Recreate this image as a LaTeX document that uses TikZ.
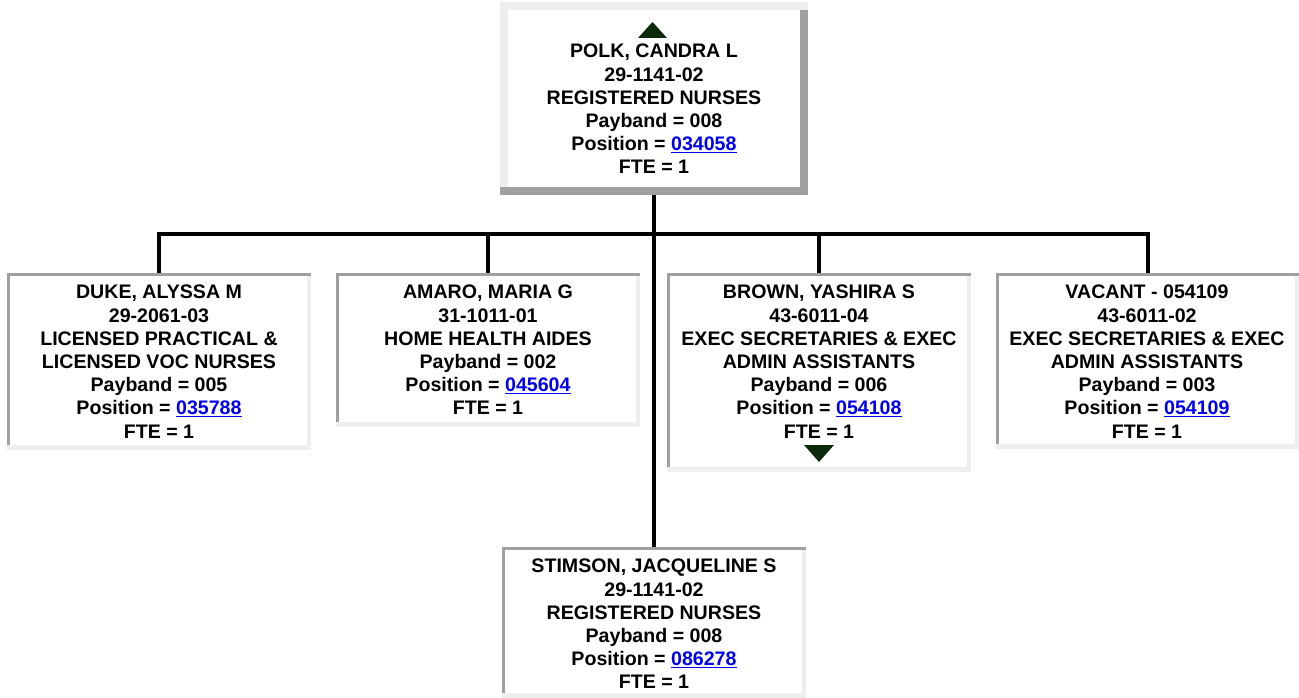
\documentclass[tikz,border=0pt]{standalone}
\usepackage{fontspec}
\setmainfont{Liberation Sans}
\usetikzlibrary{calc}
\definecolor{bevdark}{HTML}{A0A0A0}
\definecolor{bevlight}{HTML}{EEEEEE}
\definecolor{linkblue}{HTML}{0000EE}
\definecolor{arrowgreen}{HTML}{0A2A0A}
\newcommand\lnk[1]{\textcolor{linkblue}{\underline{#1}}}
\newcommand\insetbevel[1]{%
  \fill[bevlight] (#1.north west) rectangle (#1.south east);
  \fill[bevdark] (#1.north west) rectangle ($(#1.north east)+(0,3)$);
  \fill[bevdark] (#1.north west) rectangle ($(#1.south west)+(3,-5)$);
  \fill[white] ($(#1.north west)+(3,3)$) rectangle ($(#1.south east)+(-4,-5)$);
}
\newcommand\raisedbevel[1]{%
  \fill[bevdark] (#1.north west) rectangle (#1.south east);
  \fill[bevlight] (#1.north west) rectangle ($(#1.north east)+(0,8)$);
  \fill[bevlight] (#1.north west) rectangle ($(#1.south west)+(8,-8)$);
  \fill[white] ($(#1.north west)+(8,8)$) rectangle ($(#1.south east)+(-8,-8)$);
}
\tikzset{
  boxframe/.style={draw=none, inner sep=0pt, anchor=north west},
  boxtext/.style={inner sep=0pt, anchor=north, align=center,
    font=\fontsize{19.6}{23.2}\selectfont\bfseries},
  conn/.style={line width=4pt, black},
  tri/.style={fill=arrowgreen, draw=none}
}
\begin{document}
\begin{tikzpicture}[x=1pt,y=-1pt]
\useasboundingbox (0,0) rectangle (1299,698);
\fill[white] (0,0) rectangle (1299,698);

% box frames
\node[boxframe, minimum width=308pt, minimum height=193pt] (top) at (500,2) {};
\node[boxframe, minimum width=304pt, minimum height=177pt] (duke) at (7,273) {};
\node[boxframe, minimum width=304pt, minimum height=154pt] (amaro) at (336,273) {};
\node[boxframe, minimum width=304pt, minimum height=199pt] (brown) at (667,273) {};
\node[boxframe, minimum width=303pt, minimum height=176pt] (vacant) at (996,273) {};
\node[boxframe, minimum width=304pt, minimum height=151pt] (stimson) at (502,547) {};

\raisedbevel{top}
\insetbevel{duke}
\insetbevel{amaro}
\insetbevel{brown}
\insetbevel{vacant}
\insetbevel{stimson}

% connectors
\coordinate (bus) at (654,234);
\draw[conn] (top.south) -- (stimson.north);
\draw[conn] (duke.north) -- (duke.north |- bus) -- (vacant.north |- bus) -- (vacant.north);
\draw[conn] (amaro.north |- bus) -- (amaro.north);
\draw[conn] (brown.north |- bus) -- (brown.north);

% triangles
\fill[tri] (638,38) -- (652.5,22) -- (667,38) -- cycle;
\fill[tri] (804,445) -- (834,445) -- (819,462) -- cycle;

% texts
\node[boxtext] (toptxt) at (654,44) {POLK, CANDRA L\\29-1141-02\\REGISTERED NURSES\\Payband = 008\\Position = \lnk{034058}\\FTE = 1};
\node[boxtext] (duketxt) at (159,285) {DUKE, ALYSSA M\\29-2061-03\\LICENSED PRACTICAL \&\\LICENSED VOC NURSES\\Payband = 005\\Position = \lnk{035788}\\FTE = 1};
\node[boxtext] (amarotxt) at (488,285) {AMARO, MARIA G\\31-1011-01\\HOME HEALTH AIDES\\Payband = 002\\Position = \lnk{045604}\\FTE = 1};
\node[boxtext] (browntxt) at (819,285) {BROWN, YASHIRA S\\43-6011-04\\EXEC SECRETARIES \& EXEC\\ADMIN ASSISTANTS\\Payband = 006\\Position = \lnk{054108}\\FTE = 1};
\node[boxtext] (vacanttxt) at (1147,285) {VACANT - 054109\\43-6011-02\\EXEC SECRETARIES \& EXEC\\ADMIN ASSISTANTS\\Payband = 003\\Position = \lnk{054109}\\FTE = 1};
\node[boxtext] (stimsontxt) at (654,559) {STIMSON, JACQUELINE S\\29-1141-02\\REGISTERED NURSES\\Payband = 008\\Position = \lnk{086278}\\FTE = 1};
\end{tikzpicture}
\end{document}
